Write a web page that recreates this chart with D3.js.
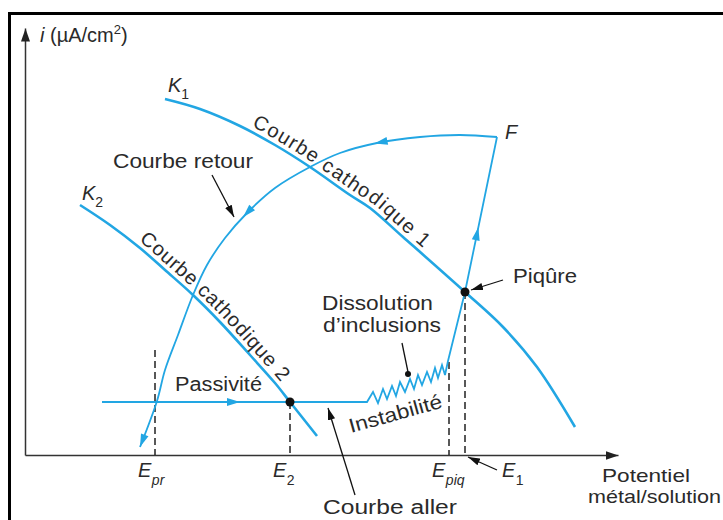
<!DOCTYPE html>
<html>
<head>
<meta charset="utf-8">
<script src="https://cdn.jsdelivr.net/npm/d3@7"></script>
<style>
  body { margin: 0; background: #fff; }
  svg { display: block; font-family: "Liberation Sans", Arial, Helvetica, sans-serif; }
</style>
</head>
<body>
<svg id="chart" width="723" height="520"></svg>
<script>
// Polarisation curve of a passive metal: potential E vs current density i (arbitrary units)

// Forward scan: passive plateau, unstable zone (inclusion dissolution), pitting, up to F
const forwardE = [77, 342, 348, 353, 358, 362, 367, 371, 375, 380, 385, 389, 393, 397, 402, 406, 410, 413, 417, 420, 423, 440, 472];
const forwardI = [53, 53, 63, 52, 66, 56, 69, 59, 73, 63, 76, 66, 80, 70, 83, 73, 87, 77, 90, 80, 94, 163, 318];

// Return scan from F back down to the repassivation potential
const returnE = [472, 435, 395, 352, 315, 285, 250, 222, 200, 182, 168, 153, 140, 132, 115];
const returnI = [318, 320, 318, 312, 302, 288, 267, 242, 217, 190, 160, 120, 85, 54, 8];

// Cathodic curve 1 (K1)
const cath1E = [140, 175, 215, 250, 285, 325, 345, 378, 440, 478, 512, 550];
const cath1I = [356, 346, 329, 310, 288, 260, 247, 218, 163, 128, 88, 28];

// Cathodic curve 2 (K2)
const cath2E = [55, 85, 115, 140, 168, 195, 225, 250, 265, 292];
const cath2I = [250, 230, 207, 185, 160, 133, 100, 72, 53, 19];

// Characteristic potentials and the current where each one is read
const potentialNames = ["pr", "2", "piq", "1"];
const potentialValues = [130, 265, 424, 440];
const potentialCurrents = [105, 53, 93, 163];

const BLUE = "#22a6e3";
const INK = "#2a2a2a";
const FONT = 20;

const svg = d3.select("#chart");

// Frame around the figure
svg.append("rect")
  .attr("x", 9.5).attr("y", 13.5)
  .attr("width", 800).attr("height", 600)
  .attr("fill", "none").attr("stroke", "#000").attr("stroke-width", 3);

const x = d3.scaleLinear().domain([0, 593]).range([25, 618]);
const y = d3.scaleLinear().domain([0, 427]).range([455, 28]);

const defs = svg.append("defs");
defs.append("marker")
  .attr("id", "axisHead")
  .attr("markerUnits", "userSpaceOnUse")
  .attr("markerWidth", 14).attr("markerHeight", 10)
  .attr("refX", 13).attr("refY", 5)
  .attr("orient", "auto")
  .append("path").attr("d", "M0,0.5L13,5L0,9.5Z").attr("fill", "#222");
defs.append("marker")
  .attr("id", "pointerHead")
  .attr("markerUnits", "userSpaceOnUse")
  .attr("markerWidth", 13).attr("markerHeight", 9)
  .attr("refX", 12).attr("refY", 4.5)
  .attr("orient", "auto")
  .append("path").attr("d", "M0,0.8L12,4.5L0,8.2Z").attr("fill", "#111");

// Axes: plain lines with arrow heads, no ticks
const xAxis = svg.append("g")
  .attr("transform", `translate(0,${y(0)})`)
  .call(d3.axisBottom(x).tickValues([]).tickSizeOuter(0));
const yAxis = svg.append("g")
  .attr("transform", `translate(${x(0)},0)`)
  .call(d3.axisLeft(y).tickValues([]).tickSizeOuter(0));
[xAxis, yAxis].forEach(g => g.select(".domain")
  .attr("stroke", "#333").attr("stroke-width", 1.5)
  .attr("marker-end", "url(#axisHead)"));

// Dashed guides down to the potential axis
svg.append("g").selectAll("line")
  .data(potentialValues)
  .join("line")
  .attr("x1", d => x(d)).attr("x2", d => x(d))
  .attr("y1", (d, k) => y(potentialCurrents[k])).attr("y2", y(0))
  .attr("stroke", "#222").attr("stroke-width", 1.5)
  .attr("stroke-dasharray", "7,4");

const pts = (es, is) => es.map((e, k) => [x(e), y(is[k])]);
const smooth = d3.line().curve(d3.curveCatmullRom.alpha(0.5));
const straight = d3.line();

// Cathodic curves
svg.append("path").attr("id", "k1")
  .attr("d", smooth(pts(cath1E, cath1I)))
  .attr("fill", "none").attr("stroke", BLUE).attr("stroke-width", 2.6);
svg.append("path").attr("id", "k2")
  .attr("d", smooth(pts(cath2E, cath2I)))
  .attr("fill", "none").attr("stroke", BLUE).attr("stroke-width", 2.6);

// Forward scan
const fwd = svg.append("path")
  .attr("d", straight(pts(forwardE, forwardI)))
  .attr("fill", "none").attr("stroke", BLUE).attr("stroke-width", 1.8)
  .attr("stroke-linejoin", "miter");

// Return scan
const ret = svg.append("path")
  .attr("d", smooth(pts(returnE, returnI)))
  .attr("fill", "none").attr("stroke", BLUE).attr("stroke-width", 1.8);

// Blue arrow heads sitting on a curve, pointing along its direction
function arrowOn(pathSel, tx, ty, len = 13, wid = 8, atEnd = false) {
  const node = pathSel.node();
  const total = node.getTotalLength();
  let best = total, bestD = Infinity;
  if (!atEnd) {
    for (let l = 0; l <= total; l += 0.5) {
      const p = node.getPointAtLength(l);
      const dd = (p.x - tx) ** 2 + (p.y - ty) ** 2;
      if (dd < bestD) { bestD = dd; best = l; }
    }
  }
  const p = node.getPointAtLength(best);
  const a = node.getPointAtLength(Math.max(0, best - 2));
  const b = node.getPointAtLength(Math.min(total, best + 2));
  const ang = Math.atan2(b.y - a.y, b.x - a.x) * 180 / Math.PI;
  svg.append("path")
    .attr("d", `M0,0L${-len},${-wid / 2}L${-len},${wid / 2}Z`)
    .attr("fill", BLUE)
    .attr("transform", `translate(${p.x},${p.y}) rotate(${ang})`);
}
arrowOn(fwd, x(215), y(53));
arrowOn(fwd, x(452), y(228));
arrowOn(ret, x(350), y(310));
arrowOn(ret, x(218), y(238));
arrowOn(ret, 0, 0, 13, 8, true);

// Intersection points
svg.append("circle").attr("cx", x(265)).attr("cy", y(53)).attr("r", 4.5).attr("fill", "#111");
svg.append("circle").attr("cx", x(440)).attr("cy", y(163)).attr("r", 4.5).attr("fill", "#111");

// Labels along the cathodic curves
function curveLabel(id, txt, offset, target) {
  const t = svg.append("text")
    .attr("font-size", FONT).attr("fill", INK).attr("dy", -5);
  t.append("textPath").attr("href", "#" + id).attr("startOffset", offset).text(txt);
  const natural = t.node().getComputedTextLength();
  t.attr("letter-spacing", (target - natural) / (txt.length - 1));
}
curveLabel("k1", "Courbe cathodique 1", 90, 210);
curveLabel("k2", "Courbe cathodique 2", 68, 200);

// Plain text helper with width fitted to the layout
function label(txt, px, py, w, opts = {}) {
  const t = svg.append("text")
    .attr("x", px).attr("y", py)
    .attr("font-size", opts.size || FONT)
    .attr("fill", INK)
    .attr("font-style", opts.italic ? "italic" : null)
    .text(txt);
  if (w) t.attr("textLength", w).attr("lengthAdjust", "spacingAndGlyphs");
  if (opts.rotate) t.attr("transform", `rotate(${opts.rotate},${px},${py})`);
  return t;
}

// Axis titles
const yt = svg.append("text").attr("x", 40).attr("y", 42)
  .attr("font-size", FONT).attr("fill", INK);
yt.append("tspan").attr("font-style", "italic").text("i");
yt.append("tspan").text(" (µA/cm");
yt.append("tspan").attr("font-size", 13).attr("dy", -8).text("2");
yt.append("tspan").attr("dy", 8).text(")");

label("Potentiel", 602, 482, 88, { size: 19 });
label("métal/solution", 588, 503, 133, { size: 19 });

// Potential labels under the axis
potentialValues.forEach((e, k) => {
  const isE1 = potentialNames[k] === "1";
  const px = isE1 ? x(e) + 37 : x(e) - 17;
  const t = svg.append("text").attr("x", px).attr("y", 477)
    .attr("font-size", FONT).attr("fill", INK).attr("font-style", "italic");
  t.append("tspan").text("E");
  t.append("tspan").attr("font-size", 14).attr("dy", 8).attr("dx", 0.5)
    .attr("font-style", /^\d$/.test(potentialNames[k]) ? "normal" : "italic")
    .text(potentialNames[k]);
});

// Curve names
const k1t = svg.append("text").attr("x", 168).attr("y", 92)
  .attr("font-size", FONT).attr("fill", INK).attr("font-style", "italic");
k1t.append("tspan").text("K");
k1t.append("tspan").attr("font-size", 14).attr("font-style", "normal").attr("dy", 7).text("1");
const k2t = svg.append("text").attr("x", 82).attr("y", 200)
  .attr("font-size", FONT).attr("fill", INK).attr("font-style", "italic");
k2t.append("tspan").text("K");
k2t.append("tspan").attr("font-size", 14).attr("font-style", "normal").attr("dy", 7).text("2");
label("F", 505, 139, null, { italic: true });

label("Courbe retour", 113, 168, 140);
label("Passivité", 175, 391, 87);
label("Dissolution", 322, 310, 111);
label("d\u2019inclusions", 323, 332, 118);
label("Piqûre", 513, 283, 64);
label("Instabilité", 351, 433, 96, { rotate: -15.5 });
label("Courbe aller", 323, 514, 134);

// Pointers from the annotations to the curves
const pointer = (e0, i0, e1, i1, head = true) => svg.append("line")
  .attr("x1", x(e0)).attr("y1", y(i0)).attr("x2", x(e1)).attr("y2", y(i1))
  .attr("stroke", "#111").attr("stroke-width", 1.3)
  .attr("marker-end", head ? "url(#pointerHead)" : null);
pointer(187, 280, 209, 238);
pointer(330, -40, 303, 47);
pointer(478, 175, 446, 165);
pointer(472, -15, 443, -2);
pointer(377, 112, 383, 83, false);
svg.append("circle").attr("cx", x(383)).attr("cy", y(81)).attr("r", 3).attr("fill", "#111");
</script>
</body>
</html>
